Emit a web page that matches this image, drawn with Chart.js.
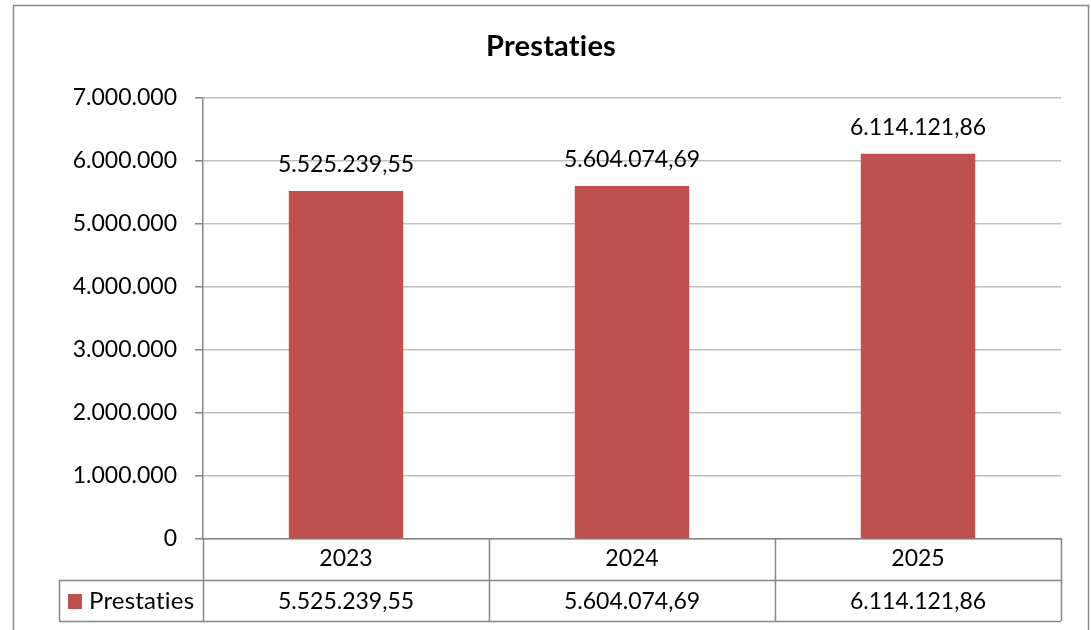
<!DOCTYPE html>
<html>
<head>
<meta charset="utf-8">
<script src="https://cdn.jsdelivr.net/npm/chart.js@4"></script>
<style>
  html, body { margin: 0; padding: 0; background: #fff; }
  canvas { display: block; }
</style>
</head>
<body>
<canvas id="c" width="1091" height="630"></canvas>
<script>
const categories = ['2023', '2024', '2025'];
const seriesName = 'Prestaties';
const chartTitle = 'Prestaties';
const values = [5525239.55, 5604074.69, 6114121.86];
const yTicks = [0, 1000000, 2000000, 3000000, 4000000, 5000000, 6000000, 7000000];

const barColor = '#C0504D';
const axisColor = '#868686';
const gridColor = '#BFBFBF';

function fmtInt(n) {
  return String(Math.round(n)).replace(/\B(?=(\d{3})+(?!\d))/g, '.');
}
function fmtDec(n) {
  const parts = n.toFixed(2).split('.');
  return parts[0].replace(/\B(?=(\d{3})+(?!\d))/g, '.') + ',' + parts[1];
}

Chart.defaults.font.family = 'Lato, Calibri, sans-serif';
Chart.defaults.font.size = 23;
Chart.defaults.color = '#000';

const FONT = '23px Lato, Calibri, sans-serif';

function noLig(ctx) {
  if ('letterSpacing' in ctx) ctx.letterSpacing = '0.2px';
}

const decor = {
  id: 'decor',
  beforeDraw(chart) {
    const ctx = chart.ctx;
    ctx.save();
    ctx.fillStyle = '#fff';
    ctx.fillRect(0, 0, chart.width, chart.height);
    ctx.strokeStyle = axisColor;
    ctx.lineWidth = 1.5;
    ctx.strokeRect(13.5, 5.5, 1075, 700);
    // title, centred on the outer frame
    ctx.font = 'bold 29px Lato, Calibri, sans-serif';
    noLig(ctx);
    ctx.fillStyle = '#000';
    ctx.textAlign = 'center';
    ctx.textBaseline = 'middle';
    ctx.fillText(chartTitle, 551, 47);
    ctx.restore();
  },
  afterDatasetsDraw(chart) {
    const ctx = chart.ctx;
    const meta = chart.getDatasetMeta(0);
    ctx.save();
    ctx.font = FONT;
    ctx.fillStyle = '#000';
    ctx.textAlign = 'center';
    ctx.textBaseline = 'alphabetic';
    meta.data.forEach((bar, i) => {
      ctx.fillText(fmtDec(values[i]), bar.x, bar.y - 19);
    });
    ctx.restore();
  },
  afterDraw(chart) {
    const ctx = chart.ctx;
    const area = chart.chartArea;
    const xs = chart.scales.x;
    const n = categories.length;
    const colW = (area.right - area.left) / n;
    const top = area.bottom;
    const row1Bottom = top + 41;
    const row2Bottom = row1Bottom + 41;
    const legendLeft = 59;
    ctx.save();
    ctx.strokeStyle = axisColor;
    ctx.lineWidth = 1.5;
    ctx.beginPath();
    for (let i = 0; i <= n; i++) {
      const x = Math.round(area.left + colW * i) + 0.5;
      ctx.moveTo(x, top);
      ctx.lineTo(x, row2Bottom);
    }
    ctx.moveTo(legendLeft + 0.5, row1Bottom);
    ctx.lineTo(legendLeft + 0.5, row2Bottom);
    ctx.moveTo(legendLeft, row1Bottom + 0.5);
    ctx.lineTo(area.right, row1Bottom + 0.5);
    ctx.moveTo(legendLeft, row2Bottom + 0.5);
    ctx.lineTo(area.right, row2Bottom + 0.5);
    ctx.stroke();

    const midY = (row1Bottom + row2Bottom) / 2;
    ctx.font = FONT;
    ctx.fillStyle = '#000';
    ctx.textAlign = 'center';
    ctx.textBaseline = 'middle';
    values.forEach((v, i) => {
      ctx.fillText(fmtDec(v), xs.getPixelForValue(i), midY + 1);
    });
    // legend key
    ctx.fillStyle = barColor;
    ctx.fillRect(68, Math.round(midY) - 7, 14, 15);
    ctx.fillStyle = '#000';
    ctx.textAlign = 'left';
    ctx.font = '24px Lato, Calibri, sans-serif';
    noLig(ctx);
    ctx.fillText(seriesName, 89, midY + 1);
    ctx.restore();
  }
};

new Chart(document.getElementById('c'), {
  type: 'bar',
  data: {
    labels: categories,
    datasets: [{
      label: seriesName,
      data: values,
      backgroundColor: barColor,
      borderWidth: 0,
      barPercentage: 0.4,
      categoryPercentage: 1.0
    }]
  },
  options: {
    responsive: false,
    animation: false,
    devicePixelRatio: 1,
    layout: { padding: { left: 0, right: 30, top: 98, bottom: 9 } },
    plugins: {
      legend: { display: false },
      tooltip: { enabled: false },
      title: { display: false }
    },
    scales: {
      x: {
        grid: { display: false, drawTicks: false },
        border: { display: true, color: axisColor, width: 1.5 },
        ticks: { padding: 6, font: { size: 23 }, color: '#000', maxRotation: 0 },
        afterFit(scale) { scale.height = 82; }
      },
      y: {
        min: 0,
        max: 7000000,
        afterBuildTicks(scale) { scale.ticks = yTicks.map(v => ({ value: v })); },
        grid: { color: gridColor, lineWidth: 1.5, tickColor: axisColor, tickLength: 8, drawTicks: true },
        border: { display: true, color: axisColor, width: 1.5 },
        ticks: { padding: 18, color: '#000', font: { size: 23 }, callback: v => fmtInt(v) },
        afterFit(scale) { scale.width = 203; }
      }
    }
  },
  plugins: [decor]
});
</script>
</body>
</html>
